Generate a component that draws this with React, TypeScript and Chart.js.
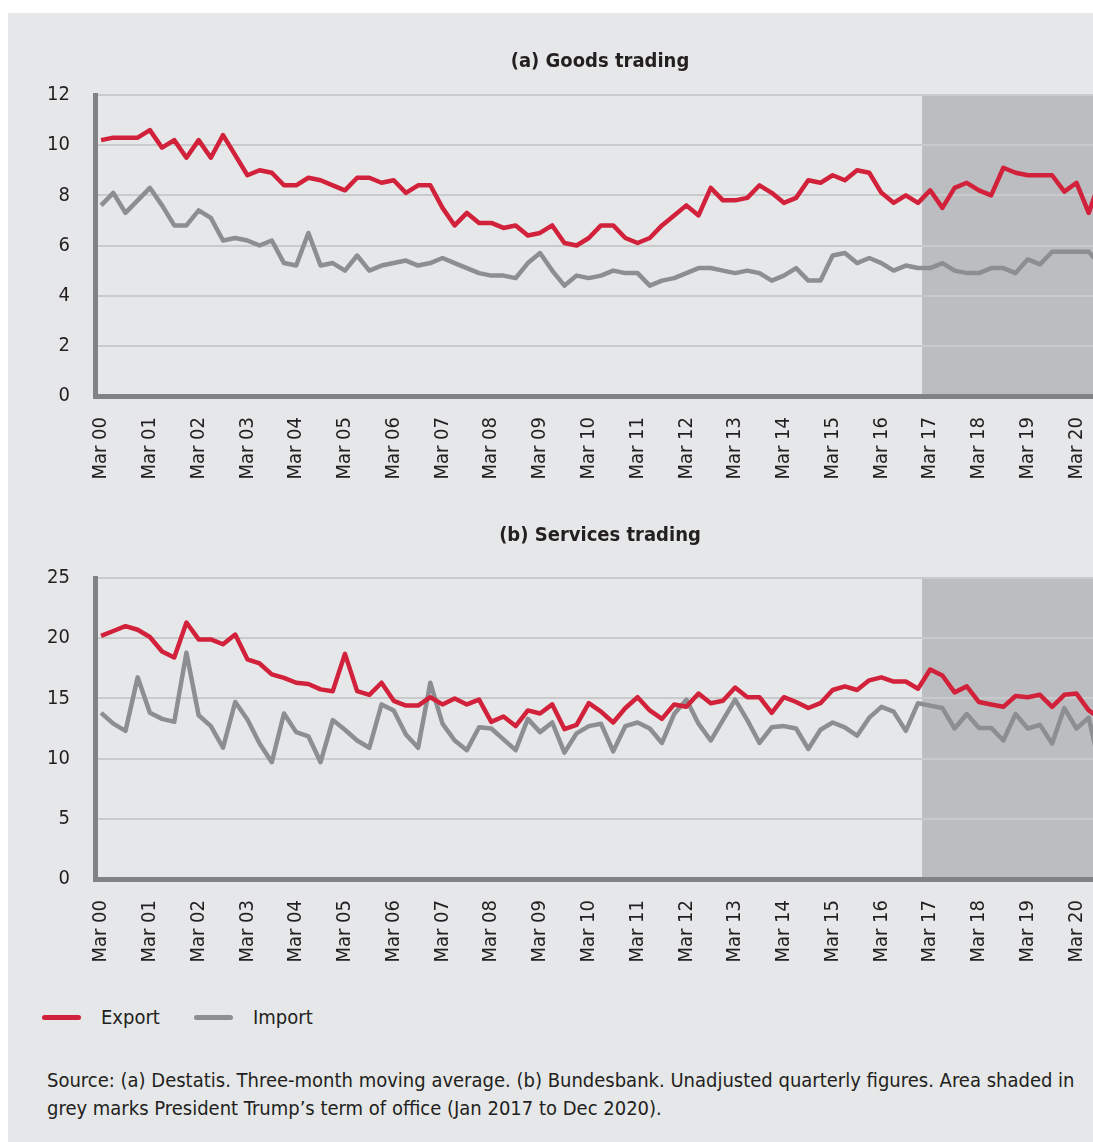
import React, { useEffect, useRef } from "react";
import { Chart, registerables } from "chart.js";

Chart.register(...registerables);

// ---------- data ----------
const years = ["00","01","02","03","04","05","06","07","08","09","10","11","12","13","14","15","16","17","18","19","20"];
const months = ["Mar", "Jun", "Sep", "Dec"];
const quarters: string[] = years.flatMap((y) => months.map((m) => `${m} ${y}`)).slice(0, 83);

const shadeStartQuarter = "Mar 17"; // term begins Jan 2017 (2 months before Mar 17)
const shadeMonthsBefore = 2;

const goodsExport = [
  10.2, 10.3, 10.3, 10.3, 10.6, 9.9, 10.2, 9.5, 10.2, 9.5,
  10.4, 9.6, 8.8, 9.0, 8.9, 8.4, 8.4, 8.7, 8.6, 8.4,
  8.2, 8.7, 8.7, 8.5, 8.6, 8.1, 8.4, 8.4, 7.5, 6.8,
  7.3, 6.9, 6.9, 6.7, 6.8, 6.4, 6.5, 6.8, 6.1, 6.0,
  6.3, 6.8, 6.8, 6.3, 6.1, 6.3, 6.8, 7.2, 7.6, 7.2,
  8.3, 7.8, 7.8, 7.9, 8.4, 8.1, 7.7, 7.9, 8.6, 8.5,
  8.8, 8.6, 9.0, 8.9, 8.1, 7.7, 8.0, 7.7, 8.2, 7.5,
  8.3, 8.5, 8.2, 8.0, 9.1, 8.9, 8.8, 8.8, 8.8, 8.15,
  8.5, 7.3, 8.7,
];
const goodsImport = [
  7.6, 8.1, 7.3, 7.8, 8.3, 7.6, 6.8, 6.8, 7.4, 7.1,
  6.2, 6.3, 6.2, 6.0, 6.2, 5.3, 5.2, 6.5, 5.2, 5.3,
  5.0, 5.6, 5.0, 5.2, 5.3, 5.4, 5.2, 5.3, 5.5, 5.3,
  5.1, 4.9, 4.8, 4.8, 4.7, 5.3, 5.7, 5.0, 4.4, 4.8,
  4.7, 4.8, 5.0, 4.9, 4.9, 4.4, 4.6, 4.7, 4.9, 5.1,
  5.1, 5.0, 4.9, 5.0, 4.9, 4.6, 4.8, 5.1, 4.6, 4.6,
  5.6, 5.7, 5.3, 5.5, 5.3, 5.0, 5.2, 5.1, 5.1, 5.3,
  5.0, 4.9, 4.9, 5.1, 5.1, 4.9, 5.45, 5.25, 5.75, 5.75,
  5.75, 5.75, 5.2,
];
const servicesExport = [
  20.2, 20.6, 21.0, 20.7, 20.1, 18.9, 18.4, 21.3, 19.9, 19.9,
  19.5, 20.3, 18.25, 17.9, 17.0, 16.7, 16.3, 16.2, 15.75, 15.6,
  18.7, 15.6, 15.3, 16.3, 14.8, 14.4, 14.4, 15.1, 14.5, 15.0,
  14.5, 14.9, 13.05, 13.5, 12.7, 14.0, 13.75, 14.5, 12.45, 12.8,
  14.6, 13.9, 13.0, 14.2, 15.1, 14.0, 13.3, 14.5, 14.3, 15.4,
  14.6, 14.8, 15.9, 15.1, 15.1, 13.8, 15.1, 14.7, 14.2, 14.6,
  15.7, 16.0, 15.7, 16.5, 16.75, 16.4, 16.4, 15.8, 17.4, 16.9,
  15.5, 16.0, 14.7, 14.5, 14.3, 15.2, 15.1, 15.3, 14.3, 15.3,
  15.4, 14.0, 13.3,
];
const servicesImport = [
  13.8, 12.9, 12.3, 16.75, 13.8, 13.3, 13.05, 18.8, 13.6, 12.7,
  10.9, 14.7, 13.25, 11.25, 9.7, 13.75, 12.2, 11.85, 9.7, 13.2,
  12.4, 11.5, 10.9, 14.5, 14.0, 12.0, 10.9, 16.3, 12.9, 11.5,
  10.7, 12.6, 12.5, 11.6, 10.7, 13.3, 12.2, 13.0, 10.5, 12.1,
  12.7, 12.9, 10.6, 12.7, 13.0, 12.5, 11.3, 13.7, 14.9, 12.9,
  11.5, 13.2, 14.9, 13.2, 11.3, 12.6, 12.7, 12.5, 10.8, 12.4,
  13.0, 12.6, 11.9, 13.4, 14.3, 13.9, 12.3, 14.6, 14.4, 14.2,
  12.5, 13.7, 12.55, 12.55, 11.5, 13.7, 12.5, 12.8, 11.25, 14.2,
  12.5, 13.4, 9.0,
];

const goodsTitle = "(a) Goods trading";
const servicesTitle = "(b) Services trading";
const goodsYMax = 12;
const goodsYStep = 2;
const servicesYMax = 25;
const servicesYStep = 5;

// ---------- style ----------
const FONT = "'DejaVu Sans Condensed', 'DejaVu Sans', sans-serif";
const TEXT = "#231f20";
const PANEL = "#e6e7e8";
const SHADE = "#bcbdc0";
const GRID = "#c9cacc";
const AXIS = "#808285";
const RED = "#d2213a";
const GREY = "#8d8e91";

const shadePlugin = {
  id: "shade",
  beforeDraw(chart: any) {
    const { ctx, chartArea, scales } = chart;
    const xs = scales.x;
    const idx = quarters.indexOf(shadeStartQuarter) - shadeMonthsBefore / 3;
    const x0 = xs.getPixelForValue(idx);
    ctx.save();
    ctx.fillStyle = SHADE;
    ctx.fillRect(x0, chartArea.top, chartArea.right - x0, chartArea.bottom - chartArea.top);
    ctx.restore();
  },
};

type Cfg = {
  title: string;
  exp: number[];
  imp: number[];
  yMax: number;
  yStep: number;
  titlePadTop: number;
  titlePadBottom: number;
  xAxisHeight: number;
};

function TradeChart({ cfg, height }: { cfg: Cfg; height: number }) {
  const ref = useRef<HTMLCanvasElement | null>(null);
  useEffect(() => {
    if (!ref.current) return;
    const chart = new Chart(ref.current, {
      type: "line",
      data: {
        labels: quarters,
        datasets: [
          {
            label: "Export",
            data: cfg.exp,
            borderColor: RED,
            borderWidth: 4.5,
            pointRadius: 0,
            tension: 0,
            borderJoinStyle: "round",
          },
          {
            label: "Import",
            data: cfg.imp,
            borderColor: GREY,
            borderWidth: 4.5,
            pointRadius: 0,
            tension: 0,
            borderJoinStyle: "round",
          },
        ],
      },
      options: {
        responsive: false,
        animation: false,
        devicePixelRatio: 1,
        layout: { padding: 0 },
        events: [],
        plugins: {
          legend: { display: false },
          tooltip: { enabled: false },
          title: {
            display: true,
            text: cfg.title,
            color: TEXT,
            font: { family: FONT, size: 20, weight: "bold", lineHeight: 1.2 },
            padding: { top: cfg.titlePadTop, bottom: cfg.titlePadBottom },
          },
        },
        scales: {
          x: {
            type: "category",
            offset: true,
            grid: { display: false, drawTicks: false },
            border: { display: true, color: AXIS, width: 5 },
            ticks: {
              autoSkip: false,
              minRotation: 90,
              maxRotation: 90,
              padding: 21,
              color: TEXT,
              font: { family: FONT, size: 20 },
            },
            afterBuildTicks: (scale: any) => {
              scale.ticks = scale.ticks.filter((t: any) => t.value % 4 === 0);
            },
            afterFit: (scale: any) => {
              scale.height = cfg.xAxisHeight;
            },
          },
          y: {
            min: 0,
            max: cfg.yMax,
            grid: { color: GRID, lineWidth: 2, drawTicks: false },
            border: { display: true, color: AXIS, width: 5 },
            ticks: {
              stepSize: cfg.yStep,
              padding: 25,
              color: TEXT,
              font: { family: FONT, size: 20 },
            },
            afterFit: (scale: any) => {
              scale.width = 87;
            },
          },
          yRight: {
            type: "linear",
            position: "right",
            min: 0,
            max: cfg.yMax,
            grid: { display: false, drawTicks: false },
            border: { display: false },
            ticks: { display: false },
            afterFit: (scale: any) => {
              scale.width = 85;
            },
          },
        },
      },
      plugins: [shadePlugin],
    });
    return () => chart.destroy();
  }, [cfg]);
  return <canvas ref={ref} width={1184} height={height} style={{ display: "block" }} />;
}

const goodsCfg: Cfg = {
  title: goodsTitle,
  exp: goodsExport,
  imp: goodsImport,
  yMax: goodsYMax,
  yStep: goodsYStep,
  titlePadTop: 37,
  titlePadBottom: 21,
  xAxisHeight: 107,
};
const servicesCfg: Cfg = {
  title: servicesTitle,
  exp: servicesExport,
  imp: servicesImport,
  yMax: servicesYMax,
  yStep: servicesYStep,
  titlePadTop: 21,
  titlePadBottom: 30,
  xAxisHeight: 114,
};

export default function App() {
  const textStyle: React.CSSProperties = {
    fontFamily: FONT,
    fontSize: 20,
    color: TEXT,
    position: "absolute",
    whiteSpace: "nowrap",
    lineHeight: "28px",
  };
  return (
    <div
      style={{
        position: "absolute",
        left: 8,
        top: 13,
        width: 1085,
        height: 1129,
        background: PANEL,
        overflow: "hidden",
      }}
    >
      <div style={{ position: "absolute", left: 0, top: 0 }}>
        <TradeChart cfg={goodsCfg} height={490} />
      </div>
      <div style={{ position: "absolute", left: 0, top: 490 }}>
        <TradeChart cfg={servicesCfg} height={490} />
      </div>
      <div style={{ position: "absolute", left: 34, top: 1001.5, width: 39, height: 5, borderRadius: 3, background: RED }} />
      <div style={{ ...textStyle, left: 93, top: 990 }}>Export</div>
      <div style={{ position: "absolute", left: 186, top: 1001.5, width: 39, height: 5, borderRadius: 3, background: GREY }} />
      <div style={{ ...textStyle, left: 245, top: 990 }}>Import</div>
      <div style={{ ...textStyle, left: 39, top: 1053 }}>
        Source: (a) Destatis. Three-month moving average. (b) Bundesbank. Unadjusted quarterly figures. Area shaded in
        <br />
        grey marks President Trump’s term of office (Jan 2017 to Dec 2020).
      </div>
    </div>
  );
}
